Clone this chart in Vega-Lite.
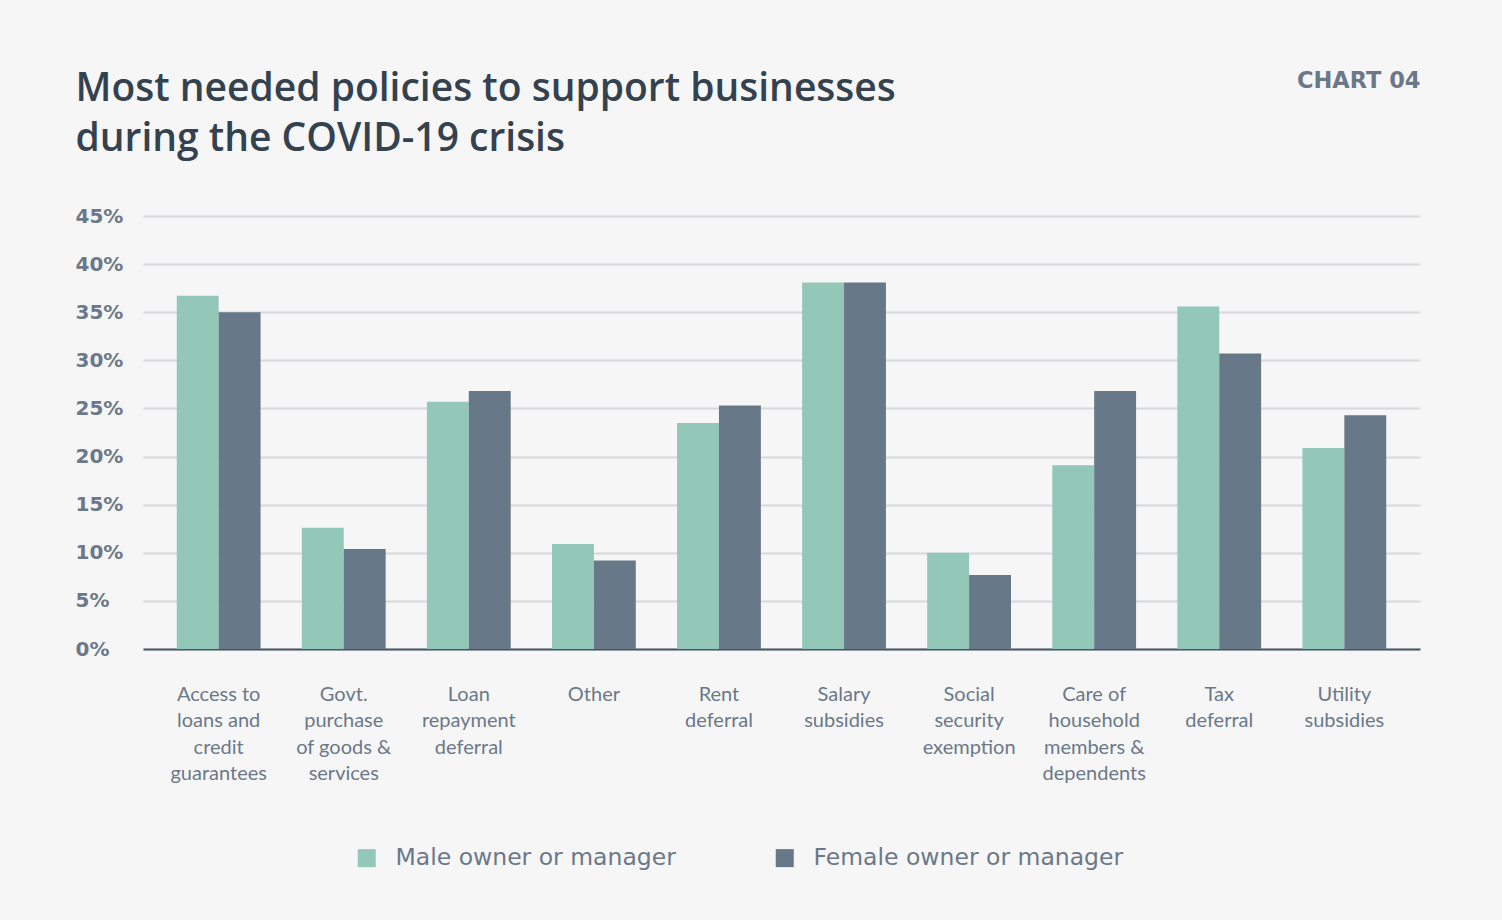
{
  "$schema": "https://vega.github.io/schema/vega-lite/v6.json",
  "width": 1277,
  "height": 433,
  "autosize": {"type": "none"},
  "padding": {"left": 143, "top": 216, "right": 82, "bottom": 271},
  "background": "#f6f6f6",
  "config": {"view": {"stroke": null}},
  "data": {
    "values": [
      {"policy": "Access to|loans and|credit|guarantees", "group": "Male owner or manager", "share": 36.7},
      {"policy": "Access to|loans and|credit|guarantees", "group": "Female owner or manager", "share": 35.0},
      {"policy": "Govt.|purchase|of goods &|services", "group": "Male owner or manager", "share": 12.6},
      {"policy": "Govt.|purchase|of goods &|services", "group": "Female owner or manager", "share": 10.4},
      {"policy": "Loan|repayment|deferral", "group": "Male owner or manager", "share": 25.7},
      {"policy": "Loan|repayment|deferral", "group": "Female owner or manager", "share": 26.8},
      {"policy": "Other", "group": "Male owner or manager", "share": 10.9},
      {"policy": "Other", "group": "Female owner or manager", "share": 9.2},
      {"policy": "Rent|deferral", "group": "Male owner or manager", "share": 23.5},
      {"policy": "Rent|deferral", "group": "Female owner or manager", "share": 25.3},
      {"policy": "Salary|subsidies", "group": "Male owner or manager", "share": 38.1},
      {"policy": "Salary|subsidies", "group": "Female owner or manager", "share": 38.1},
      {"policy": "Social|security|exemption", "group": "Male owner or manager", "share": 10.0},
      {"policy": "Social|security|exemption", "group": "Female owner or manager", "share": 7.7},
      {"policy": "Care of|household|members &|dependents", "group": "Male owner or manager", "share": 19.1},
      {"policy": "Care of|household|members &|dependents", "group": "Female owner or manager", "share": 26.8},
      {"policy": "Tax|deferral", "group": "Male owner or manager", "share": 35.6},
      {"policy": "Tax|deferral", "group": "Female owner or manager", "share": 30.7},
      {"policy": "Utility|subsidies", "group": "Male owner or manager", "share": 20.9},
      {"policy": "Utility|subsidies", "group": "Female owner or manager", "share": 24.3}
    ]
  },
  "mark": {"type": "bar"},
  "encoding": {
    "x": {
      "field": "policy",
      "type": "nominal",
      "sort": null,
      "scale": {"paddingInner": 0.33, "paddingOuter": 0.27},
      "axis": {
        "title": "CHART 04",
        "titleX": 1277,
        "titleY": -562,
        "titleAlign": "right",
        "titleBaseline": "alphabetic",
        "titleAnchor": null,
        "titleFont": "DejaVu Sans",
        "titleFontSize": 22.5,
        "titleFontWeight": "bold",
        "titleColor": "#6b7889",
        "labelExpr": "split(datum.label, '|')",
        "labelAngle": 0,
        "labelAlign": "center",
        "labelBaseline": "top",
        "labelPadding": 35,
        "labelLineHeight": 26.6,
        "labelFont": "Lato",
        "labelFontSize": 20,
        "labelColor": "#6b7889",
        "labelLimit": 300,
        "ticks": false,
        "domain": true,
        "domainColor": "#4a5663",
        "domainWidth": 2,
        "grid": false
      }
    },
    "xOffset": {"field": "group", "sort": ["Male owner or manager", "Female owner or manager"]},
    "y": {
      "field": "share",
      "type": "quantitative",
      "scale": {"domain": [0, 45], "nice": false},
      "axis": {
        "values": [0, 5, 10, 15, 20, 25, 30, 35, 40, 45],
        "labelExpr": "datum.value + '%'",
        "labelAlign": "left",
        "labelBaseline": "middle",
        "labelPadding": 68,
        "labelFont": "DejaVu Sans",
        "labelFontSize": 20,
        "labelFontWeight": "bold",
        "labelColor": "#6b7889",
        "ticks": false,
        "domain": false,
        "grid": true,
        "gridColor": "#d5d8dc",
        "gridWidth": 2,
        "title": ["Most needed policies to support businesses", "during the COVID-19 crisis"],
        "titleAngle": 0,
        "titleX": -68,
        "titleY": -116,
        "titleAlign": "left",
        "titleAnchor": null,
        "titleBaseline": "alphabetic",
        "titleFont": "Open Sans",
        "titleFontSize": 39,
        "titleFontWeight": 600,
        "titleColor": "#34414e",
        "titleLineHeight": 50,
        "titleLimit": 1400
      }
    },
    "color": {
      "field": "group",
      "type": "nominal",
      "sort": ["Male owner or manager", "Female owner or manager"],
      "scale": {"domain": ["Male owner or manager", "Female owner or manager"], "range": ["#93c7b8", "#677889"]},
      "legend": {
        "orient": "none",
        "legendX": 212,
        "legendY": 630,
        "direction": "horizontal",
        "title": null,
        "symbolType": "square",
        "symbolSize": 324,
        "symbolStrokeWidth": 0,
        "symbolOpacity": 1,
        "labelFont": "DejaVu Sans",
        "labelFontSize": 23.5,
        "labelColor": "#6b7889",
        "labelOffset": 17,
        "labelLimit": 400,
        "columnPadding": 97
      }
    }
  }
}
